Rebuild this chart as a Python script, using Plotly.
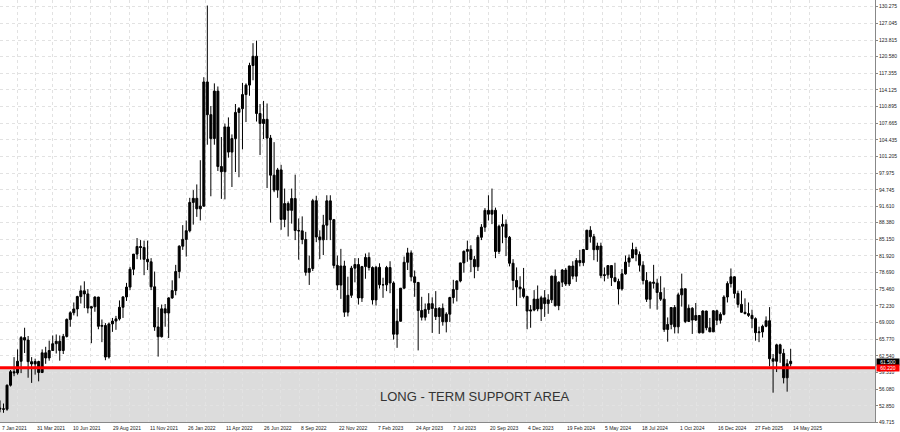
import pandas as pd
import plotly.graph_objects as go

# ---------------- data (weekly bars) ----------------
first_open = 52.40

closes = [
    # 2021 (weeks ending 22 Jan .. 31 Dec)
    52.27, 52.20, 56.85, 59.47, 59.24, 61.50, 66.09, 65.61, 61.42, 60.97,
    61.45, 59.32, 63.13, 62.14, 63.58, 64.90, 65.37, 63.58, 66.32, 69.62,
    70.91, 71.64, 74.05, 75.16, 74.56, 71.81, 72.07, 73.95, 68.28, 68.44,
    62.32, 68.74, 69.29, 69.72, 71.97, 73.98, 75.88, 79.35, 82.28, 83.76,
    83.57, 81.27, 80.79, 75.94, 68.15, 66.26, 71.67, 70.86, 73.79, 75.21,
    # 2022
    78.90, 83.82, 85.14, 86.82, 92.31, 93.10, 91.07, 91.59, 115.68, 109.33,
    104.70, 113.90, 99.27, 98.26, 106.95, 102.07, 104.69, 109.77, 110.49, 113.23,
    115.07, 118.87, 120.67, 109.56, 107.62, 108.43, 104.79, 97.59, 94.70, 98.62,
    89.01, 92.09, 90.77, 93.06, 86.87, 86.79, 85.11, 78.74, 79.49, 92.64,
    85.61, 85.05, 87.90, 92.61, 88.96, 80.08, 76.28, 79.98, 71.02, 74.29,
    79.56, 80.26,
    # 2023
    73.77, 79.86, 81.64, 79.68, 73.39, 79.72, 76.34, 76.32, 79.68, 76.68,
    66.74, 69.26, 75.67, 80.70, 82.52, 77.87, 76.78, 71.34, 70.04, 71.55,
    72.67, 71.74, 70.17, 71.78, 69.16, 70.64, 73.86, 75.42, 77.07, 80.58,
    82.82, 83.19, 81.25, 79.83, 85.55, 87.51, 90.77, 90.03, 90.79, 82.79,
    87.69, 88.08, 85.54, 80.51, 77.17, 75.89, 75.54, 74.07, 71.23, 71.43,
    73.56, 71.65,
    # 2024
    73.81, 72.68, 73.41, 78.01, 72.28, 76.84, 79.19, 76.49, 79.97, 78.01,
    81.04, 80.63, 83.17, 86.91, 85.66, 83.14, 83.85, 78.11, 78.26, 80.06,
    77.72, 76.99, 75.53, 78.45, 80.73, 81.54, 83.16, 82.21, 80.13, 77.16,
    73.52, 76.84, 76.65, 74.83, 73.55, 67.67, 68.65, 71.92, 68.18, 74.38,
    75.56, 69.22, 71.78, 69.49, 70.38, 67.02, 71.24, 68.00, 67.20, 71.29,
    69.46, 70.60,
    # 2025 (weeks ending 3 Jan .. 16 May)
    73.96, 76.57, 77.88, 74.66, 72.53, 71.00, 70.74, 70.40, 69.76, 67.04,
    67.18, 68.28, 69.36, 61.99, 61.50, 64.68, 63.02, 58.29, 61.02, 61.50,
]

highs = [
    # 2021
    53.9, 53.3, 57.0, 59.8, 62.3, 63.8, 66.4, 68.0, 66.4, 62.3,
    62.0, 61.6, 63.8, 64.3, 65.5, 66.5, 66.7, 66.5, 66.8, 69.8,
    71.2, 72.9, 74.2, 76.2, 77.0, 75.5, 72.2, 74.1, 74.0, 69.6,
    68.9, 69.0, 69.9, 70.3, 73.3, 74.1, 76.7, 79.8, 82.3, 85.4,
    85.0, 84.9, 84.9, 81.5, 78.9, 72.0, 72.5, 72.6, 73.9, 77.2,
    # 2022
    80.2, 84.0, 87.9, 88.8, 93.2, 94.7, 95.8, 100.5, 116.6, 130.5,
    111.0, 115.4, 114.8, 105.0, 107.6, 108.8, 105.5, 111.4, 110.8, 115.5,
    115.4, 119.4, 123.2, 123.7, 111.4, 112.0, 111.5, 105.4, 104.0, 99.0,
    99.6, 95.0, 92.5, 95.0, 97.7, 89.2, 89.6, 86.6, 82.0, 93.0,
    93.6, 86.9, 89.9, 93.7, 93.7, 89.1, 82.0, 83.3, 81.0, 77.9,
    80.0, 81.5,
    # 2023
    81.5, 80.0, 82.4, 82.6, 79.9, 80.0, 80.5, 77.7, 80.0, 80.9,
    77.0, 71.7, 75.7, 81.8, 83.5, 83.0, 79.1, 76.9, 74.0, 72.7,
    74.7, 73.9, 75.1, 72.0, 72.7, 71.0, 74.0, 77.3, 77.2, 80.6,
    83.0, 84.9, 84.0, 81.9, 86.0, 88.1, 91.2, 93.7, 95.0, 91.3,
    88.0, 90.0, 89.0, 85.8, 81.3, 79.7, 78.0, 79.6, 74.2, 72.4,
    75.3, 76.2,
    # 2024
    74.2, 75.3, 74.5, 78.1, 79.3, 77.0, 79.4, 79.6, 80.0, 80.9,
    81.5, 83.1, 83.2, 87.0, 87.7, 86.2, 84.5, 84.5, 79.7, 80.1,
    80.1, 80.6, 77.5, 79.4, 82.0, 82.2, 84.5, 83.7, 82.8, 80.9,
    78.8, 77.0, 80.2, 77.5, 78.0, 75.8, 70.0, 72.0, 72.4, 74.8,
    78.5, 75.6, 72.5, 72.0, 72.8, 69.9, 71.4, 71.3, 69.9, 71.4,
    71.5, 71.0,
    # 2025
    74.3, 77.0, 79.5, 78.0, 75.2, 75.2, 73.7, 72.9, 71.5, 70.0,
    68.2, 68.6, 70.2, 72.0, 62.9, 64.9, 64.9, 63.9, 61.9, 63.9,
]

lows = [
    # 2021
    51.6, 51.5, 51.9, 56.6, 58.6, 58.9, 59.2, 63.1, 58.3, 57.3,
    58.9, 57.6, 59.2, 61.0, 61.6, 63.5, 63.0, 61.6, 62.9, 66.1,
    68.2, 70.4, 70.2, 72.7, 71.8, 70.8, 65.0, 71.1, 67.7, 65.2,
    61.7, 62.0, 67.2, 67.6, 69.4, 69.9, 73.2, 75.3, 78.2, 81.3,
    81.2, 78.2, 79.2, 75.3, 67.4, 62.4, 66.1, 68.2, 66.0, 73.6,
    # 2022
    74.3, 77.6, 83.1, 81.8, 86.5, 88.0, 89.5, 88.8, 91.5, 103.5,
    93.5, 103.5, 98.4, 93.0, 92.9, 101.0, 95.3, 98.2, 97.2, 102.6,
    107.9, 113.0, 116.0, 108.0, 101.5, 104.6, 95.1, 88.4, 94.3, 93.2,
    87.0, 87.5, 85.7, 88.2, 85.0, 81.2, 84.2, 78.1, 76.3, 79.0,
    84.6, 81.3, 82.1, 85.0, 85.0, 79.5, 75.3, 73.6, 70.1, 70.2,
    73.8, 76.8,
    # 2023
    72.5, 73.0, 77.5, 79.1, 72.5, 72.3, 75.6, 73.8, 75.1, 74.7,
    65.7, 64.1, 69.2, 75.6, 79.2, 77.0, 74.0, 63.6, 69.4, 69.4,
    70.7, 67.0, 69.5, 66.8, 68.4, 67.1, 69.1, 72.7, 73.1, 76.8,
    78.7, 80.8, 78.8, 77.6, 79.0, 85.0, 86.6, 88.8, 88.1, 81.5,
    82.3, 84.4, 81.9, 79.9, 75.3, 72.2, 73.8, 73.7, 67.7, 68.0,
    71.2, 71.2,
    # 2024
    69.3, 70.1, 70.7, 72.8, 72.1, 71.4, 75.9, 76.1, 76.1, 77.4,
    76.9, 79.9, 80.0, 83.1, 84.5, 81.1, 80.8, 77.6, 77.0, 77.5,
    76.1, 76.8, 72.5, 75.2, 78.3, 79.8, 81.5, 80.9, 78.9, 76.4,
    73.0, 71.7, 75.6, 71.5, 73.2, 67.2, 65.3, 67.7, 66.9, 66.9,
    72.1, 68.9, 69.1, 66.8, 69.3, 66.9, 66.9, 67.5, 67.2, 67.2,
    68.5, 68.8,
    # 2025
    70.4, 72.9, 75.8, 73.7, 71.9, 70.9, 70.6, 70.1, 67.9, 65.5,
    65.2, 66.1, 68.1, 60.5, 55.4, 59.4, 61.2, 57.2, 55.6, 60.5,
]

# x tick labels (dates of the chart's time scale)
tick_dates = ["2021-01-20", "2021-03-31", "2021-06-10", "2021-08-29", "2021-11-11",
              "2022-01-26", "2022-04-11", "2022-06-26", "2022-09-08", "2022-11-22",
              "2023-02-07", "2023-04-24", "2023-07-07", "2023-09-20", "2023-12-04",
              "2024-02-19", "2024-05-05", "2024-07-18", "2024-10-01", "2024-12-16",
              "2025-02-27", "2025-05-14"]
tick_text = ["7 Jan 2021", "31 Mar 2021", "10 Jun 2021", "29 Aug 2021", "11 Nov 2021",
             "26 Jan 2022", "11 Apr 2022", "26 Jun 2022", "8 Sep 2022", "22 Nov 2022",
             "7 Feb 2023", "24 Apr 2023", "7 Jul 2023", "20 Sep 2023", "4 Dec 2023",
             "19 Feb 2024", "5 May 2024", "18 Jul 2024", "1 Oct 2024", "16 Dec 2024",
             "27 Feb 2025", "14 May 2025"]

# y price scale labels
price_ticks = [130.275, 127.045, 123.815, 120.580, 117.355, 114.125, 110.895, 107.665,
               104.435, 101.205, 97.975, 94.745, 91.610, 88.380, 85.150, 81.920,
               78.690, 75.460, 72.230, 69.000, 65.770, 62.540, 59.310, 56.080,
               52.850, 49.715]

support_level = 60.22
support_label = "LONG - TERM SUPPORT AREA"

# ---------------- build ----------------
n = len(closes)
week_mid = pd.date_range("2021-01-20", periods=n, freq="7D")  # mid-week of each weekly bar
opens = [first_open] + closes[:-1]

fig = go.Figure()
fig.add_trace(go.Candlestick(
    x=week_mid, open=opens, high=highs, low=lows, close=closes,
    increasing=dict(line=dict(color="#000000", width=1), fillcolor="#000000"),
    decreasing=dict(line=dict(color="#000000", width=1), fillcolor="#000000"),
    whiskerwidth=0, hoverinfo="skip", showlegend=False,
))

# grid positions: every label plus midpoints between labels
td = pd.to_datetime(tick_dates)
grid_vals = []
for i, d in enumerate(td):
    grid_vals.append(d)
    if i + 1 < len(td):
        grid_vals.append(d + (td[i + 1] - d) / 2)
grid_vals.append(td[-1] + (td[-1] - td[-2]) / 2)

ymin, ymax = 49.715, 131.575

date_labels = [
    dict(text=t, xref="x", yref="paper", x=d, y=0, xanchor="left", yanchor="top",
         yshift=-1, xshift=0, showarrow=False,
         font=dict(size=5, color="#222222", family="Liberation Sans, Arial, sans-serif"))
    for d, t in zip(tick_dates, tick_text)
]

fig.update_layout(
    width=900, height=432,
    margin=dict(l=0, r=25, t=0, b=10, autoexpand=False),
    paper_bgcolor="#ffffff", plot_bgcolor="#ffffff",
    boxgap=0.2,
    font=dict(family="Liberation Sans, Arial, sans-serif", color="#222222", size=5),
    xaxis=dict(
        type="date", range=["2021-01-20", "2025-10-29"],
        rangeslider=dict(visible=False),
        tickmode="array", tickvals=grid_vals, showticklabels=False,
        ticks="",
        showgrid=True, gridcolor="#e2e2e2", griddash="dot", gridwidth=1,
        showline=True, linecolor="#888888", linewidth=1,
        zeroline=False, fixedrange=True,
    ),
    yaxis=dict(
        side="right", range=[ymin, ymax],
        tickmode="array", tickvals=price_ticks,
        ticktext=[f"{v:.3f}" for v in price_ticks],
        tickfont=dict(size=5, color="#222222"),
        ticks="outside", ticklen=2, tickcolor="#888888",
        showgrid=True, gridcolor="#e2e2e2", griddash="dot", gridwidth=1,
        showline=True, linecolor="#888888", linewidth=1, mirror=False,
        zeroline=False, fixedrange=True,
    ),
    shapes=[
        dict(type="rect", xref="paper", yref="y", x0=0, x1=1, y0=ymin, y1=support_level,
             fillcolor="#dcdcdc", line=dict(width=0), layer="below"),
        dict(type="line", xref="paper", yref="y", x0=0, x1=1, y0=support_level, y1=support_level,
             line=dict(color="#ff0000", width=3), layer="above"),
    ],
    annotations=date_labels + [
        dict(text=support_label, xref="paper", yref="y", x=0.5425, y=(ymin + support_level) / 2 - 0.35,
             showarrow=False, font=dict(size=13, color="#333333",
                                         family="Liberation Sans, Arial, sans-serif"),
             xanchor="center", yanchor="middle"),
        dict(text=f"{closes[-1]:.3f}", xref="paper", yref="y", x=1.0, y=closes[-1] - 0.1,
             xanchor="left", yanchor="middle", showarrow=False, xshift=1,
             bgcolor="#000000", font=dict(size=5, color="#ffffff"), width=22, height=6,
             borderpad=0),
        dict(text=f"{support_level:.3f}", xref="paper", yref="y", x=1.0, y=support_level,
             xanchor="left", yanchor="middle", showarrow=False, xshift=1,
             bgcolor="#ff0000", font=dict(size=5, color="#ffffff"), width=22, height=6,
             borderpad=0),
    ],
)

fig.write_html("out.html", config={"displayModeBar": False},
               post_script="document.body.style.margin='0';document.body.style.overflow='hidden';")
